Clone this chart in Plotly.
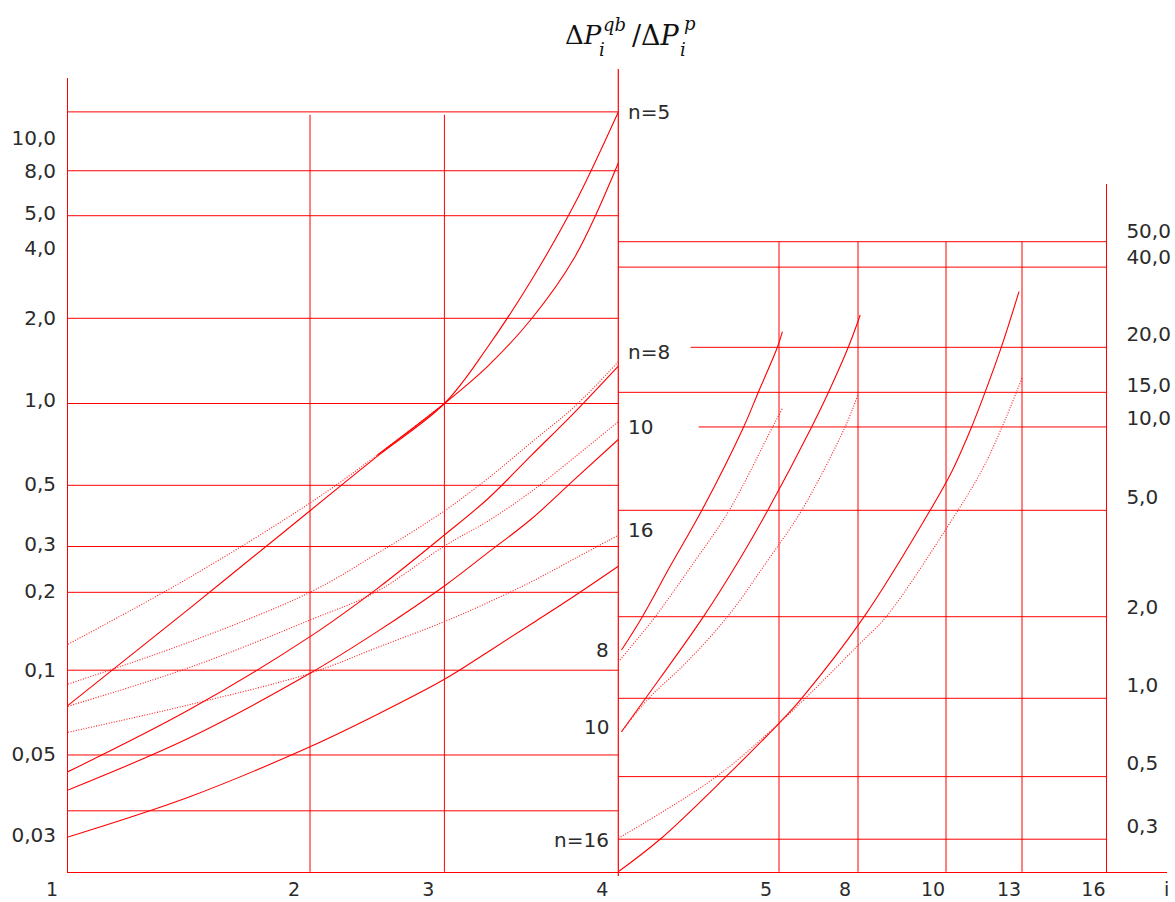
import numpy as np
import plotly.graph_objects as go

# ---------------- axis scales (irregular, as drawn) ----------------
LEFT_I_TICKS = [1, 2, 3, 4]
LEFT_TICK_FRAC = [0.0, 0.4398, 0.6840, 1.0]
RIGHT_I_TICKS = [4, 5, 8, 10, 13, 16]
RIGHT_TICK_FRAC = [0.0, 0.2931, 0.4372, 0.5977, 0.7363, 0.8902]

LEFT_X_LABELS = ["1", "2", "3", "4"]
RIGHT_X_LABELS = ["5", "8", "10", "13", "16"]

LEFT_Y_LABELS = ["10,0", "8,0", "5,0", "4,0", "2,0", "1,0", "0,5", "0,3", "0,2", "0,1", "0,05", "0,03"]
LEFT_Y_LABEL_AT = [9.9, 7.46, 5.19, 3.83, 2.09, 1.03, 0.5, 0.297, 0.198, 0.1, 0.0485, 0.0241]
RIGHT_Y_LABELS = ["50,0", "40,0", "20,0", "15,0", "10,0", "5,0", "2,0", "1,0", "0,5", "0,3"]
RIGHT_Y_LABEL_AT = [53.0, 42.5, 22.1, 14.3, 10.8, 5.55, 2.18, 1.12, 0.578, 0.338]

LEFT_GRID_Y = [12.4, 7.46, 5.06, 2.087, 1.0, 0.4935, 0.2909, 0.1959, 0.1, 0.0481, 0.0297]
LEFT_GRID_X = [2, 3]
LEFT_GRID_X_TOP = 12.1
RIGHT_GRID_Y = [48.4, 39.0, 19.73, 13.46, 10.03, 4.94, 2.0, 1.0, 0.514, 0.302]
RIGHT_GRID_Y_START = [4, 4, 4.45, 4, 4.5, 4, 4, 4, 4, 4]
RIGHT_GRID_X = [5, 8, 10, 13]
RIGHT_GRID_X_TOP = 48.4

# ---------------- left panel curves (i = 1..4) ----------------
LEFT_I = [1, 1.5, 2, 2.5, 3, 3.25, 3.5, 3.75, 4]
n5_solid = [0.0738, 0.1699, 0.3963, 0.6339, 1.0, 1.632, 2.900, 5.617, 12.39]
n5_second = [0.1251, 0.2222, 0.4236, 0.6406, 1.0, 1.382, 2.074, 3.543, 7.975]
n8_dotted = [0.0887, 0.1274, 0.1959, 0.2740, 0.3957, 0.5238, 0.7147, 0.9761, 1.435]
n8_solid = [0.04163, 0.07103, 0.1336, 0.2023, 0.3213, 0.4395, 0.6389, 0.9292, 1.382]
n10_dotted = [0.0733, 0.1022, 0.1542, 0.1976, 0.2921, 0.3622, 0.4678, 0.6301, 0.8548]
n10_solid = [0.03555, 0.05568, 0.09736, 0.1395, 0.2069, 0.2759, 0.3688, 0.5202, 0.7328]
n16_dotted = [0.05851, 0.07418, 0.09736, 0.1216, 0.1521, 0.1793, 0.2146, 0.2623, 0.3208]
n16_solid = [0.02369, 0.03346, 0.05164, 0.06823, 0.09245, 0.1171, 0.1491, 0.1903, 0.2454]

# ---------------- right panel curves (i = 4..16) ----------------
g8_solid_i = [4.02, 4.15, 4.32, 4.52, 4.78, 4.87, 4.99, 5.13]
g8_solid_v = [1.507, 2.001, 3.05, 4.94, 10.03, 13.42, 19.74, 22.53]
g8_dotted_i = [4.01, 4.23, 4.45, 4.69, 4.96, 5.13]
g8_dotted_v = [1.385, 2.001, 3.05, 4.94, 10.03, 11.75]
g10_solid_i = [4.02, 4.17, 4.53, 4.76, 4.93, 6.24, 6.87, 7.63, 8.05]
g10_solid_v = [0.7527, 1.0, 2.001, 3.294, 4.94, 10.03, 13.42, 19.74, 25.97]
g10_dotted_i = [4.02, 4.19, 4.42, 4.68, 4.91, 5.86, 7.51, 7.99]
g10_dotted_v = [0.7527, 1.0, 1.350, 2.001, 3.104, 4.94, 10.03, 13.16]
g16_solid_i = [4.0, 4.26, 4.67, 5.0, 5.86, 8.14, 9.64, 10.24, 10.96, 11.54, 12.19, 12.88]
g16_solid_v = [0.2291, 0.3018, 0.5137, 0.8086, 1.0, 2.001, 4.94, 6.90, 9.77, 13.46, 19.84, 31.65]
g16_dotted_i = [4.0, 4.61, 5.0, 6.0, 8.01, 8.64, 10.02, 11.42, 12.16, 13.02]
g16_dotted_v = [0.3043, 0.5137, 0.8086, 1.0, 1.573, 2.001, 4.240, 6.957, 9.77, 15.37]

RED = "#ff0000"
TXT = "#2b2b2b"
W, H = 1175, 902


def lpos(i):
    return np.interp(i, LEFT_I_TICKS, LEFT_TICK_FRAC)


def rpos(i):
    return np.interp(i, RIGHT_I_TICKS, RIGHT_TICK_FRAC)


fig = go.Figure()


def add_line(x, y, axis, dash="solid", width=1.1, color=RED, shape="spline"):
    fig.add_trace(go.Scatter(
        x=x, y=y, mode="lines", xaxis="x" if axis == 1 else "x2",
        yaxis="y" if axis == 1 else "y2",
        line=dict(color=color, width=width, dash=dash, shape=shape),
        hoverinfo="skip", showlegend=False))


# grid lines
for v in LEFT_GRID_Y:
    add_line(lpos([1, 4]), [v, v], 1, width=1, shape="linear")
for i in LEFT_GRID_X:
    add_line(lpos([i, i]), [0.005, LEFT_GRID_X_TOP], 1, width=1, shape="linear")
for v, s in zip(RIGHT_GRID_Y, RIGHT_GRID_Y_START):
    add_line(rpos([s, 16]), [v, v], 2, width=1, shape="linear")
for i in RIGHT_GRID_X:
    add_line(rpos([i, i]), [0.1, RIGHT_GRID_X_TOP], 2, width=1, shape="linear")

DOT = dict(dash="1px,1.6px", width=1.1, color="#ff1a1a")

# left curves
add_line(lpos(LEFT_I), n5_solid, 1)
add_line(lpos(LEFT_I[:5]), n5_second[:5], 1, **DOT)
add_line(lpos(LEFT_I[3:]), n5_second[3:], 1)
add_line(lpos(LEFT_I), n8_dotted, 1, **DOT)
add_line(lpos(LEFT_I), n8_solid, 1)
add_line(lpos(LEFT_I), n10_dotted, 1, **DOT)
add_line(lpos(LEFT_I), n10_solid, 1)
add_line(lpos(LEFT_I), n16_dotted, 1, **DOT)
add_line(lpos(LEFT_I), n16_solid, 1)

# right curves
add_line(rpos(g8_solid_i), g8_solid_v, 2)
add_line(rpos(g8_dotted_i), g8_dotted_v, 2, **DOT)
add_line(rpos(g10_solid_i), g10_solid_v, 2)
add_line(rpos(g10_dotted_i), g10_dotted_v, 2, **DOT)
add_line(rpos(g16_solid_i), g16_solid_v, 2)
add_line(rpos(g16_dotted_i), g16_dotted_v, 2, **DOT)

TICKFONT = dict(family="DejaVu Sans", size=20, color=TXT)
XTICKFONT = dict(family="DejaVu Sans", size=19, color=TXT)

x_left = 68 / W
x_mid = 618.3 / W
x_right_end = 1166.6 / W
y_bot = 1 - 871.7 / H

AX = dict(showgrid=False, zeroline=False, showline=True, linecolor=RED, linewidth=1,
          showspikes=False, ticks="", automargin=False, fixedrange=True)

fig.update_layout(
    width=W, height=H,
    margin=dict(l=0, r=0, t=0, b=0, pad=0, autoexpand=False),
    paper_bgcolor="white", plot_bgcolor="white",
    showlegend=False,
    xaxis=dict(domain=[x_left, x_mid], range=[0, 1], anchor="y",
               tickvals=list(lpos(LEFT_I_TICKS)), ticktext=LEFT_X_LABELS, tickfont=XTICKFONT,
               ticklabelshift=-16, ticklabelstandoff=0, **AX),
    yaxis=dict(domain=[y_bot, 1 - 78 / H], type="log", range=[-1.7555, 1.2205], anchor="x",
               tickvals=LEFT_Y_LABEL_AT, ticktext=LEFT_Y_LABELS, tickfont=TICKFONT,
               ticklabelstandoff=7, **AX),
    xaxis2=dict(domain=[x_mid, x_right_end], range=[0, 1], anchor="y2",
                tickvals=list(rpos(RIGHT_I_TICKS[1:])), ticktext=RIGHT_X_LABELS, tickfont=XTICKFONT,
                ticklabelshift=-13, ticklabelstandoff=0, **AX),
    yaxis2=dict(domain=[y_bot, 1 - 184 / H], type="log", range=[-0.6399, 1.8978],
                anchor="free", position=1106.4 / W, side="right",
                tickvals=RIGHT_Y_LABEL_AT, ticktext=RIGHT_Y_LABELS, tickfont=TICKFONT,
                ticklabelstandoff=15, **AX),
)

# separating vertical line (i = 4), taller than both panels
fig.add_shape(type="line", xref="paper", yref="paper", x0=x_mid, x1=x_mid,
              y0=1 - 876 / H, y1=1 - 69 / H, line=dict(color=RED, width=1.2))

LABFONT = dict(family="DejaVu Sans", size=20, color=TXT)
# curve labels to the right of the i=4 line (left-panel curve ends)
right_labels = [("n=5", n5_solid[-1], 0), ("n=8", n8_dotted[-1], 10),
                ("10", n10_dotted[-1], -5), ("16", n16_dotted[-1], 5)]
for t, v, ys in right_labels:
    fig.add_annotation(text=t, xref="x", yref="y", x=1.0, y=np.log10(v), xanchor="left",
                       yanchor="middle", xshift=8, yshift=ys, showarrow=False, font=LABFONT)
# curve labels to the left of the i=4 line (right-panel curve starts)
left_labels = [("8", g8_solid_v[0], 0), ("10", g10_solid_v[0], 5), ("n=16", g16_dotted_v[0], -2)]
for t, v, ys in left_labels:
    fig.add_annotation(text=t, xref="x2", yref="y2", x=0.0, y=np.log10(v), xanchor="right",
                       yanchor="middle", xshift=-7, yshift=ys, showarrow=False, font=LABFONT)

fig.add_annotation(text="i", xref="x2", yref="paper", x=1.0, y=1 - 889 / H,
                   xanchor="center", yanchor="middle", showarrow=False, font=XTICKFONT)

# title  ΔP_i^{qb} / ΔP_i^{p}
SERIF = "DejaVu Serif"
title_parts = [
    ("Δ<i>P</i>", 563, 35, 26),
    ("<i>qb</i>", 601, 24, 18),
    ("<i>i</i>", 597, 49, 18),
    ("/Δ<i>P</i>", 630, 35, 27),
    ("<i>p</i>", 682, 23, 18),
    ("<i>i</i>", 678, 49, 18),
]
for t, px, py, sz in title_parts:
    fig.add_annotation(text=t, xref="paper", yref="paper", x=px / W, y=1 - py / H,
                       xanchor="left", yanchor="middle", showarrow=False,
                       font=dict(family=SERIF, size=sz, color="#111111"))

fig.write_html("out.html", config={"displayModeBar": False},
               post_script="document.body.style.margin='0';")
